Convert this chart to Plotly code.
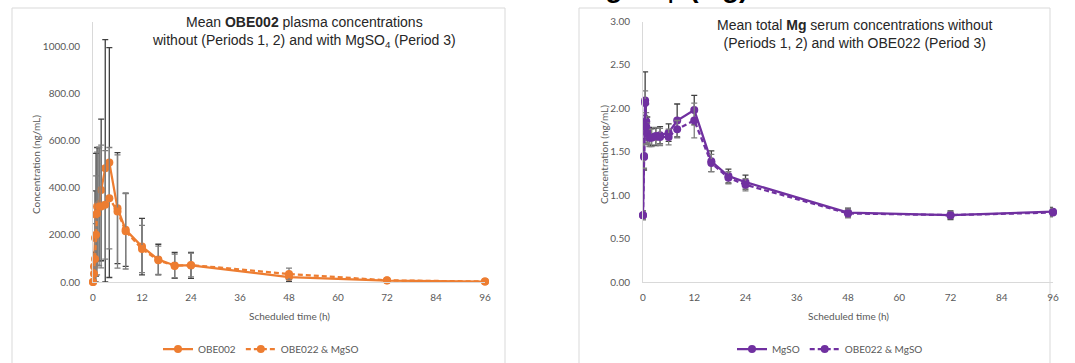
import plotly.graph_objects as go

W, H = 1075, 363

# ---------------- data ----------------
time_h = [0, 0.25, 0.5, 0.75, 1, 1.5, 2, 3, 4, 6, 8, 12, 16, 20, 24, 48, 72, 96]

obe002_mean = [0, 66, 186, 285, 320, 330, 390, 482, 506, 313, 221, 150, 95, 70, 70, 21, 6, 2]
obe002_sd = [0, 60, 200, 260, 250, 240, 300, 545, 487, 235, 155, 120, 65, 55, 55, 20, 4, 2]
obe022_mg_mean = [0, 35, 97, 200, 290, 320, 320, 327, 355, 299, 215, 140, 92, 68, 72, 34, 7, 2]
obe022_mg_sd = [0, 40, 150, 250, 260, 250, 260, 230, 215, 240, 160, 100, 60, 50, 50, 25, 4, 2]

mgso_mean = [0.77, 1.44, 2.09, 1.85, 1.75, 1.68, 1.67, 1.67, 1.69, 1.72, 1.86, 1.98, 1.39, 1.22, 1.15, 0.80, 0.77, 0.81]
mgso_sd = [0.05, 0.15, 0.33, 0.20, 0.15, 0.10, 0.10, 0.10, 0.10, 0.10, 0.19, 0.17, 0.12, 0.08, 0.08, 0.05, 0.05, 0.05]
obe022_mg2_mean = [0.77, 1.45, 2.06, 1.79, 1.71, 1.66, 1.66, 1.68, 1.67, 1.67, 1.76, 1.86, 1.37, 1.20, 1.12, 0.79, 0.77, 0.80]
obe022_mg2_sd = [0.05, 0.14, 0.14, 0.16, 0.12, 0.10, 0.10, 0.10, 0.10, 0.09, 0.10, 0.20, 0.10, 0.07, 0.07, 0.05, 0.04, 0.05]

x_ticks = [0, 12, 24, 36, 48, 60, 72, 84, 96]

ORANGE = "#ED7D31"
PURPLE = "#7030A0"
ERR_DARK = "#404040"
ERR_LIGHT = "#7f7f7f"
GRID = "#d9d9d9"
TXT = "#595959"
FONT = "Lato"
TFONT = "Liberation Sans"


def px_x(p):
    return p / W


def px_y(p):
    return 1 - p / H


def err(mean, sd):
    return dict(type="data", symmetric=False, array=sd,
                arrayminus=[min(s, m) for m, s in zip(mean, sd)])


fig = go.Figure()


def add_series(x, mean, sd, name, color, dash, xa, ya, legend, ecolor):
    e = err(mean, sd)
    e.update(color=ecolor, thickness=1.3, width=3)
    fig.add_trace(go.Scatter(
        x=x, y=mean, name=name, mode="lines+markers",
        line=dict(color=color, width=2.25, dash=dash),
        marker=dict(color=color, size=8, symbol="circle"),
        error_y=e, xaxis=xa, yaxis=ya, legend=legend, cliponaxis=False))


add_series(time_h, obe002_mean, obe002_sd, "OBE002", ORANGE, "solid", "x", "y", "legend", ERR_DARK)
add_series(time_h, obe022_mg_mean, obe022_mg_sd, "OBE022 & MgSO", ORANGE, "5px,3px", "x", "y", "legend", ERR_LIGHT)
add_series(time_h, mgso_mean, mgso_sd, "MgSO", PURPLE, "solid", "x2", "y2", "legend2", ERR_DARK)
add_series(time_h, obe022_mg2_mean, obe022_mg2_sd, "OBE022 & MgSO", PURPLE, "5px,3px", "x2", "y2", "legend2", ERR_LIGHT)

axis_common = dict(showline=True, linecolor=GRID, linewidth=1, showgrid=False, zeroline=False,
                   tickfont=dict(family=FONT, size=10, color=TXT), ticks="", automargin=False)

fig.update_layout(
    width=W, height=H,
    margin=dict(l=0, r=0, t=0, b=0, autoexpand=False),
    paper_bgcolor="white", plot_bgcolor="white",
    xaxis=dict(domain=[px_x(93), px_x(485)], range=[0, 96], tickvals=x_ticks,
               anchor="y", ticklabelstandoff=6, **axis_common),
    yaxis=dict(domain=[px_y(282), px_y(22.4)], range=[0, 1100], tickvals=[0, 200, 400, 600, 800, 1000],
               tickformat=".2f", anchor="x", ticklabelstandoff=10, **axis_common),
    xaxis2=dict(domain=[px_x(643), px_x(1053)], range=[0, 96], tickvals=x_ticks,
                anchor="y2", ticklabelstandoff=6, **axis_common),
    yaxis2=dict(domain=[px_y(282), px_y(21.5)], range=[0, 3], tickvals=[0, 0.5, 1, 1.5, 2, 2.5, 3],
                tickformat=".2f", anchor="x2", ticklabelstandoff=10, **axis_common),
    legend=dict(orientation="h", x=px_x(261), xanchor="center", y=px_y(349), yanchor="middle",
                font=dict(family=FONT, size=10, color=TXT), bgcolor="rgba(0,0,0,0)",
                itemwidth=30, tracegroupgap=0),
    legend2=dict(orientation="h", x=px_x(830), xanchor="center", y=px_y(349), yanchor="middle",
                 font=dict(family=FONT, size=10, color=TXT), bgcolor="rgba(0,0,0,0)",
                 itemwidth=30, tracegroupgap=0),
    showlegend=True,
)

# chart frames
for x0, x1 in [(12, 505), (579, 1050)]:
    fig.add_shape(type="rect", xref="paper", yref="paper",
                  x0=px_x(x0), x1=px_x(x1), y0=-0.2, y1=px_y(8),
                  line=dict(color=GRID, width=1), fillcolor="rgba(0,0,0,0)", layer="below")

annotations = [
    dict(text="Mean <b>OBE002</b> plasma concentrations<br>without (Periods 1, 2) and with MgSO<sub>4</sub> (Period 3)",
         x=px_x(304), y=px_y(32), xanchor="center", yanchor="middle",
         font=dict(family=TFONT, size=14, color="#262626")),
    dict(text="Mean total <b>Mg</b> serum concentrations without<br>(Periods 1, 2) and with OBE022 (Period 3)",
         x=px_x(855), y=px_y(34), xanchor="center", yanchor="middle",
         font=dict(family=TFONT, size=14, color="#262626")),
    dict(text="Concentration (ng/mL)", x=px_x(36), y=px_y(165), textangle=-90,
         xanchor="center", yanchor="middle", font=dict(family=FONT, size=10, color=TXT)),
    dict(text="Concentration (ng/mL)", x=px_x(604), y=px_y(155), textangle=-90,
         xanchor="center", yanchor="middle", font=dict(family=FONT, size=10, color=TXT)),
    dict(text="Scheduled time (h)", x=px_x(289), y=px_y(316),
         xanchor="center", yanchor="middle", font=dict(family=FONT, size=10, color=TXT)),
    dict(text="Scheduled time (h)", x=px_x(848), y=px_y(316),
         xanchor="center", yanchor="middle", font=dict(family=FONT, size=10, color=TXT)),
    dict(text="<b>MgSO<sub>4</sub>  (Mg)</b>", x=px_x(580), y=px_y(-10),
         xanchor="left", yanchor="middle", font=dict(family=TFONT, size=28, color="black")),
]
for a in annotations:
    a.update(xref="paper", yref="paper", showarrow=False)
    fig.add_annotation(**a)

fig.write_html("out.html", config={"displayModeBar": False},
               post_script="document.body.style.margin='0';document.body.style.overflow='hidden';")
